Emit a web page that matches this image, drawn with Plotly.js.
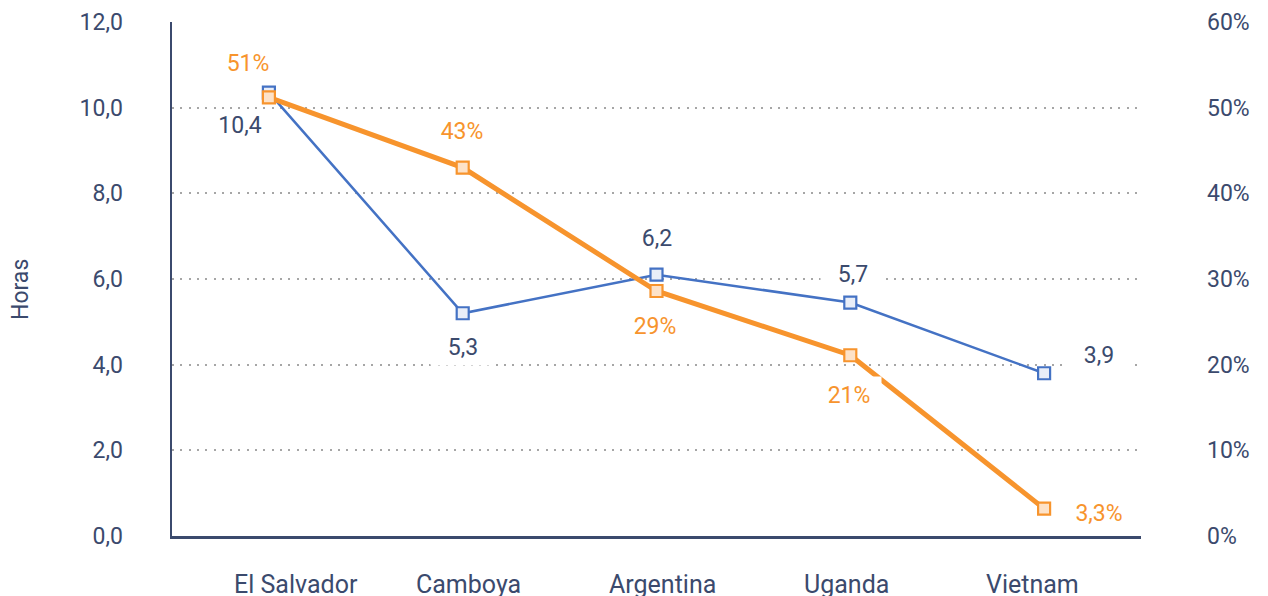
<!DOCTYPE html>
<html>
<head>
<meta charset="utf-8">
<script src="https://cdn.plot.ly/plotly-3.0.1.min.js"></script>
<style>html,body{margin:0;padding:0;background:#fff;}#chart{width:1268px;height:596px;}</style>
</head>
<body>
<div id="chart"></div>
<script>
// ---- data ----
const countries = ['El Salvador', 'Camboya', 'Argentina', 'Uganda', 'Vietnam'];
const hours = [10.35, 5.2, 6.1, 5.45, 3.8];          // left axis (Horas)
const hoursLabels = ['10,4', '5,3', '6,2', '5,7', '3,9'];
const share = [51.2, 43, 28.6, 21.1, 3.2];           // right axis (%)
const shareLabels = ['51%', '43%', '29%', '21%', '3,3%'];
const leftTicks = [0, 2, 4, 6, 8, 10, 12];
const rightTicks = [0, 10, 20, 30, 40, 50, 60];
const rightTickLabels = ['0%', '10%', '20%', '30%', '40%', '50%', '60%'];
const yTitle = 'Horas';

// ---- style ----
const NAVY = '#3b4a6d';
const BLUE = '#4472c4';
const ORANGE = '#f7942d';
const FONT = 'Roboto, sans-serif';
const FS = 23;

// label placement (pixel offsets from the marker) and whether box is opaque
const hoursLabelPos = [[-29, 32, false], [0, 34, true], [0, -37, true], [3, -29, true], [55, -18, true]];
const shareLabelPos = [[-21, -34, true], [-1, -37, true], [-2, 35, true], [-1, 40, true], [55, 4, true]];
// horizontal nudges of the category labels (as placed in the original)
const catLabelShift = [27, 6, 6, -4, -12];

const traces = [
  {
    x: countries, y: hours, yaxis: 'y', type: 'scatter', mode: 'lines+markers',
    line: {color: BLUE, width: 2.5},
    marker: {symbol: 'square', size: 12, color: '#e9eef8', line: {color: BLUE, width: 2.2}},
    hoverinfo: 'skip', showlegend: false, cliponaxis: false
  },
  {
    x: countries, y: share, yaxis: 'y2', type: 'scatter', mode: 'lines+markers',
    line: {color: ORANGE, width: 5},
    marker: {symbol: 'square', size: 12, color: '#fde2c8', line: {color: ORANGE, width: 2.2}},
    hoverinfo: 'skip', showlegend: false, cliponaxis: false
  }
];

const annotations = [];
countries.forEach((c, i) => {
  const hp = hoursLabelPos[i];
  annotations.push({
    x: c, y: hours[i], xref: 'x', yref: 'y', text: hoursLabels[i], showarrow: false,
    xshift: hp[0], yshift: -hp[1], width: 64, height: 36,
    bgcolor: hp[2] ? '#ffffff' : 'rgba(0,0,0,0)', borderpad: 0,
    font: {family: FONT, size: FS, color: NAVY}
  });
  const sp = shareLabelPos[i];
  annotations.push({
    x: c, y: share[i], xref: 'x', yref: 'y2', text: shareLabels[i], showarrow: false,
    xshift: sp[0], yshift: -sp[1], width: 64, height: 36,
    bgcolor: sp[2] ? '#ffffff' : 'rgba(0,0,0,0)', borderpad: 0,
    font: {family: FONT, size: FS, color: ORANGE}
  });
  // category label under the axis
  annotations.push({
    x: c, y: 0, xref: 'x', yref: 'paper', text: c, showarrow: false,
    xanchor: 'center', yanchor: 'middle', xshift: catLabelShift[i], yshift: -48,
    font: {family: FONT, size: 25, color: NAVY}
  });
});
annotations.push({
  x: 0, y: 0.5, xref: 'paper', yref: 'paper', text: yTitle, showarrow: false,
  textangle: -90, xanchor: 'center', yanchor: 'middle', xshift: -152, yshift: -11,
  font: {family: FONT, size: FS, color: NAVY}
});

const layout = {
  width: 1268, height: 596,
  margin: {l: 172, r: 127, t: 22, b: 60, pad: 0},
  paper_bgcolor: '#ffffff', plot_bgcolor: '#ffffff',
  separators: ', ',
  font: {family: FONT, size: FS, color: NAVY},
  showlegend: false,
  xaxis: {
    type: 'category', range: [-0.5, 4.5], fixedrange: true,
    showgrid: false, zeroline: false,
    showline: true, linecolor: NAVY, linewidth: 2.5,
    ticks: '', showticklabels: false
  },
  yaxis: {
    range: [0, 12], tickvals: leftTicks, tickformat: '.1f', fixedrange: true,
    showgrid: true, gridcolor: '#a6a6a6', gridwidth: 2, griddash: '2px,6.3px',
    zeroline: false, showline: true, linecolor: NAVY, linewidth: 2.5,
    ticks: '', ticklabelstandoff: 42,
    tickfont: {family: FONT, size: FS, color: NAVY}
  },
  yaxis2: {
    range: [0, 60], tickvals: rightTicks, ticktext: rightTickLabels, overlaying: 'y', side: 'right',
    fixedrange: true, showgrid: false, zeroline: false, showline: false,
    ticks: '', ticklabelstandoff: 65,
    tickfont: {family: FONT, size: FS, color: NAVY}
  },
  annotations: annotations
};

Plotly.newPlot('chart', traces, layout, {displayModeBar: false, staticPlot: true});
</script>
</body>
</html>
